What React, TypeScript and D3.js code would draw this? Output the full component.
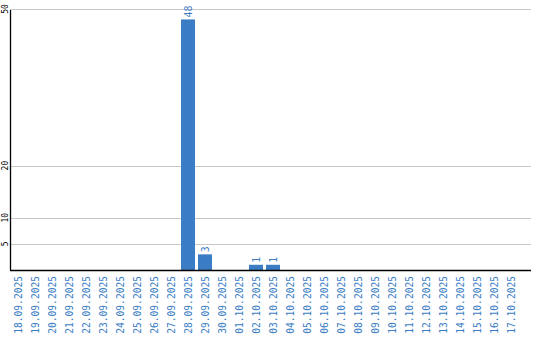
import React from "react";
import * as d3 from "d3";

const categories = [
  "18.09.2025", "19.09.2025", "20.09.2025", "21.09.2025", "22.09.2025",
  "23.09.2025", "24.09.2025", "25.09.2025", "26.09.2025", "27.09.2025",
  "28.09.2025", "29.09.2025", "30.09.2025", "01.10.2025", "02.10.2025",
  "03.10.2025", "04.10.2025", "05.10.2025", "06.10.2025", "07.10.2025",
  "08.10.2025", "09.10.2025", "10.10.2025", "11.10.2025", "12.10.2025",
  "13.10.2025", "14.10.2025", "15.10.2025", "16.10.2025", "17.10.2025",
];
const values = [
  0, 0, 0, 0, 0, 0, 0, 0, 0, 0,
  48, 3, 0, 0, 1, 1, 0, 0, 0, 0,
  0, 0, 0, 0, 0, 0, 0, 0, 0, 0,
];
const yTicks = [5, 10, 20, 50];
const yMax = 50;

const W = 540;
const H = 340;
const left = 10;
const right = 531;
const top = 9;
const bottom = 270;
const barColor = "#3a7dc4";
const font = "'DejaVu Sans Mono', monospace";

export default function App() {
  const x = d3
    .scaleBand<string>()
    .domain(categories)
    .range([9.5, 519.5])
    .paddingInner(3 / 17)
    .paddingOuter(1.5 / 17);
  const y = d3.scaleLinear().domain([0, yMax]).range([bottom, top]);

  return (
    <svg
      width={W}
      height={H}
      style={{ position: "absolute", left: 0, top: 0, display: "block" }}
    >
      <rect width={W} height={H} fill="#fff" />
      {yTicks.map((t) => (
        <g key={t}>
          <line
            x1={left}
            x2={right}
            y1={Math.round(y(t)) + 0.5}
            y2={Math.round(y(t)) + 0.5}
            stroke="#c8c8c8"
            strokeWidth={1}
          />
          <text
            transform={`translate(8,${Math.max(y(t), 7)}) rotate(-90)`}
            textAnchor="middle"
            fontFamily={font}
            fontSize={8}
            fill="#000"
          >
            {t}
          </text>
        </g>
      ))}
      {categories.map((c, i) => {
        const v = values[i];
        const bx = x(c)!;
        const bw = x.bandwidth();
        const cx = bx + bw / 2;
        return (
          <g key={c}>
            {v > 0 && (
              <>
                <rect
                  x={bx}
                  y={y(v)}
                  width={bw}
                  height={bottom - y(v)}
                  fill={barColor}
                />
                <text
                  transform={`translate(${cx + 3.5},${y(v) - 2}) rotate(-90)`}
                  textAnchor="start"
                  fontFamily={font}
                  fontSize={10}
                  fill={barColor}
                >
                  {v}
                </text>
              </>
            )}
            <text
              transform={`translate(${cx + 3.5},${bottom + 6}) rotate(-90)`}
              textAnchor="end"
              fontFamily={font}
              fontSize={9.6}
              fill={barColor}
            >
              {c}
            </text>
          </g>
        );
      })}
      <line x1={left + 0.5} x2={left + 0.5} y1={top + 1} y2={bottom} stroke="#000" strokeWidth={1.3} />
      <line x1={left} x2={right} y1={bottom + 0.5} y2={bottom + 0.5} stroke="#000" strokeWidth={1.3} />
    </svg>
  );
}
